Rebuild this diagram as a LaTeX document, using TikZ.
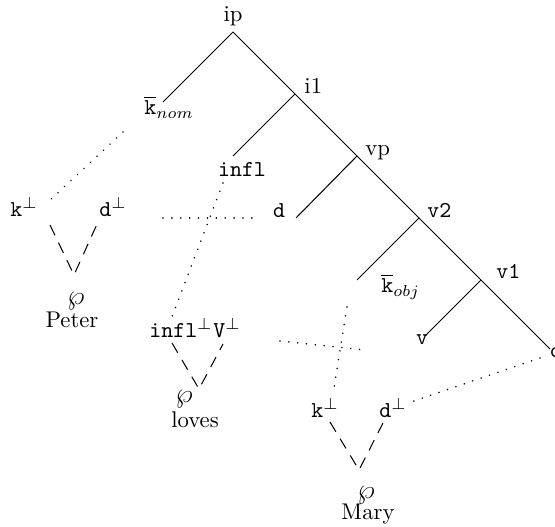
\documentclass[tikz,border=0pt]{standalone}
\usetikzlibrary{positioning}
\begin{document}
\begin{tikzpicture}[
  x=0.44pt,y=-0.44pt,
  lbl/.style={inner sep=0pt,anchor=base},
  lblw/.style={inner sep=0pt,anchor=base west},
  wpsym/.style={inner sep=0pt,anchor=base,font=\large},
  branch/.style={line width=0.45pt},
  link/.style={line width=0.75pt,line cap=round,dash pattern=on 0.01pt off 3.9pt},
  fuse/.style={line width=0.45pt,dash pattern=on 5pt off 3.6pt}
]
\useasboundingbox (0,0) rectangle (555,527);
\clip (0,0) rectangle (555,527);
% spine of the tree
\coordinate (ipJ) at (233,32);
\coordinate (ioneJ) at (295,94);
\coordinate (vpJ) at (357,156);
\coordinate (vtwoJ) at (419,218);
\coordinate (voneJ) at (481,280);
\coordinate (dEnd) at (550,349);
\coordinate (knomEnd) at (163,102);
\coordinate (inflEnd) at (233,156);
\coordinate (dmidEnd) at (296,218);
\coordinate (kobjEnd) at (357,280);
\coordinate (vEnd) at (425,336);
% labels of the tree
\node[lbl] (ip) at (233,22) {ip};
\node[lblw] (ione) at (304,94) {i1};
\node[lblw] (vp) at (365,156) {vp};
\node[lblw] (vtwo) at (427,218) {\texttt{v2}};
\node[lblw] (vone) at (496,279) {\texttt{v1}};
\node[lblw] (knom) at (144,115) {$\overline{\texttt{k}}_{nom}$};
\node[lbl] (infl) at (242,177) {\texttt{infl}};
\node[lbl] (dmid) at (279,218) {\texttt{d}};
\node[lblw] (kobj) at (381,293) {$\overline{\texttt{k}}_{obj}$};
\node[lbl] (vleaf) at (422,345) {\texttt{v}};
\node[lblw] (dright) at (550,358) {\texttt{d}};
% Peter
\node[lblw] (kpeter) at (10,217) {\texttt{k}$^\perp$};
\node[lblw] (dpeter) at (99,217) {\texttt{d}$^\perp$};
\node[wpsym] (wppeter) at (76,305) {$\wp$};
\node[lbl] (peter) at (72,328) {Peter};
% loves
\node[lblw] (inflperp) at (149,338) {\texttt{infl}$^\perp$};
\node[lblw] (vperp) at (213,338) {\texttt{V}$^\perp$};
\node[wpsym] (wploves) at (184,403) {$\wp$};
\node[lbl] (loves) at (195,428) {loves};
% Mary
\node[lblw] (kmary) at (311,418) {\texttt{k}$^\perp$};
\node[lblw] (dmary) at (379,418) {\texttt{d}$^\perp$};
\node[wpsym] (wpmary) at (366,499) {$\wp$};
\node[lbl] (mary) at (368,520) {Mary};
% ends of the links
\coordinate (knomFoot) at (123,132);
\coordinate (kpeterTop) at (47,203);
\coordinate (dpeterRight) at (163,218);
\coordinate (dmidLeft) at (258,218);
\coordinate (inflFoot) at (223,183);
\coordinate (inflperpTop) at (170,322);
\coordinate (crossLeft) at (280,341);
\coordinate (crossRight) at (365,350);
\coordinate (kobjFoot) at (347,307);
\coordinate (kmaryTop) at (333,394);
\coordinate (drightFoot) at (540,358);
\coordinate (dmaryRight) at (408,403);
\coordinate (kpeterFoot) at (50,225);
\coordinate (dpeterFoot) at (98,222);
\coordinate (peterV) at (74,275);
\coordinate (inflperpFoot) at (172,343);
\coordinate (vperpFoot) at (223,344);
\coordinate (lovesV) at (199,389);
\coordinate (kmaryFoot) at (330,422);
\coordinate (dmaryFoot) at (383,423);
\coordinate (maryV) at (359,470);
\draw[branch] (ipJ) -- (ioneJ) -- (vpJ) -- (vtwoJ) -- (voneJ) -- (dEnd);
\draw[branch] (ipJ) -- (knomEnd);
\draw[branch] (ioneJ) -- (inflEnd);
\draw[branch] (vpJ) -- (dmidEnd);
\draw[branch] (vtwoJ) -- (kobjEnd);
\draw[branch] (voneJ) -- (vEnd);
\draw[link] (knomFoot) -- (kpeterTop);
\draw[link] (dpeterRight) -- (dmidLeft);
\draw[link] (inflFoot) -- (inflperpTop);
\draw[link] (crossLeft) -- (crossRight);
\draw[link] (kobjFoot) -- (kmaryTop);
\draw[link] (drightFoot) -- (dmaryRight);
\draw[fuse] (kpeterFoot) -- (peterV) -- (dpeterFoot);
\draw[fuse] (inflperpFoot) -- (lovesV) -- (vperpFoot);
\draw[fuse] (kmaryFoot) -- (maryV) -- (dmaryFoot);
\end{tikzpicture}
\end{document}
